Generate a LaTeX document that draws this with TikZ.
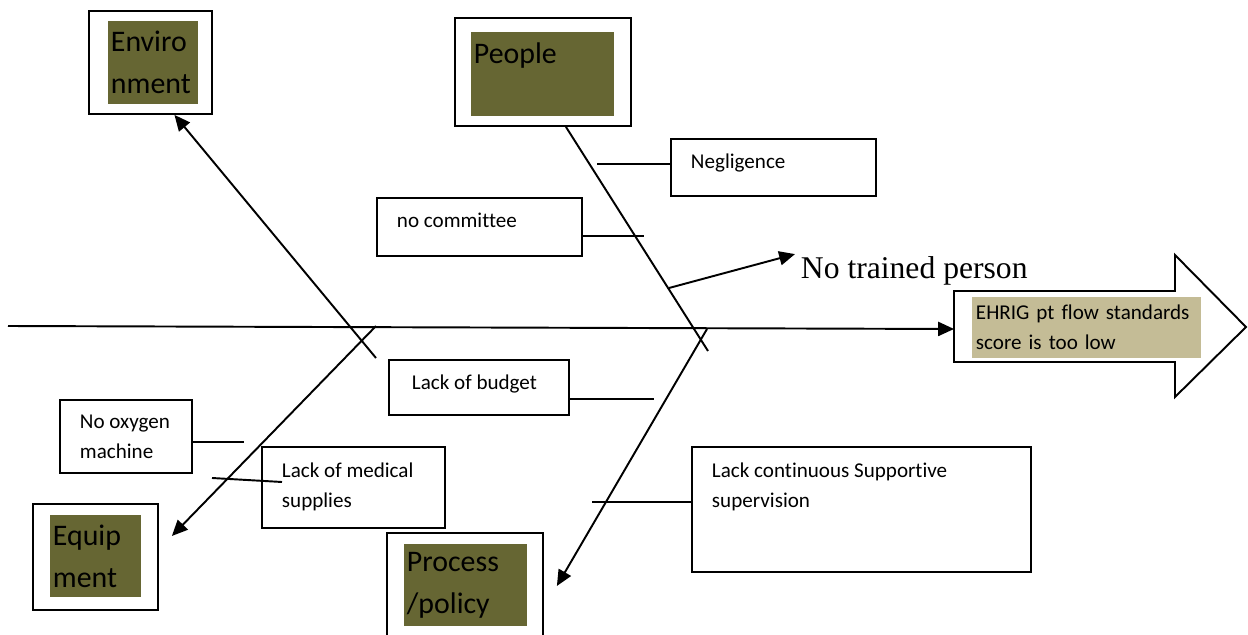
\documentclass[tikz,border=0pt]{standalone}
\usepackage{fontspec}
\setmainfont{Carlito}[Ligatures=NoCommon]
\newfontfamily\serifface{Liberation Serif}
\usetikzlibrary{arrows.meta}
\definecolor{catfill}{RGB}{102,102,51}
\definecolor{effectfill}{RGB}{196,188,150}

\begin{document}
\begin{tikzpicture}[x=0.02cm,y=-0.02cm,line width=1.1pt,
  >={Triangle[length=9pt,width=8pt]},
  frame/.style={draw,anchor=north west,inner sep=0},
  category/.style={fill=catfill,anchor=north west,inner xsep=0.06cm,inner ysep=0,
    align=left,font=\fontsize{17}{24}\selectfont},
  causetext/.style={anchor=north west,inner sep=0,align=left,
    font=\fontsize{12}{17}\selectfont}]
\useasboundingbox (0,0) rectangle (1248,635);

\coordinate (S)     at (8,326);
\coordinate (E)     at (954,329);
\coordinate (envS)  at (376,358);
\coordinate (eqS)   at (376,326);
\coordinate (pplE)  at (708,351);
\coordinate (procS) at (707,329);
\coordinate (T)     at (669,288);

% Categories
\node[frame,minimum width=2.46cm,minimum height=2.06cm] (envF) at (88,10) {};
\node[category,text width=1.68cm,minimum height=1.66cm] (env) at (107,20) {Enviro\\nment};
\node[frame,minimum width=3.52cm,minimum height=2.16cm] (peopleF) at (454,17) {};
\node[category,text width=2.74cm,minimum height=1.68cm] (people) at (470,31) {People\\\mbox{}};
\node[frame,minimum width=2.5cm,minimum height=2.12cm] (equipF) at (32,503) {};
\node[category,text width=1.7cm,minimum height=1.64cm] (equip) at (49,514) {Equip\\ment};
\node[frame,minimum width=3.12cm,minimum height=2.2cm] (procF) at (386,532) {};
\node[category,text width=2.34cm,minimum height=1.64cm] (proc) at (403,543) {Process\\/policy};

% Causes
\node[frame,minimum width=4.1cm,minimum height=1.14cm] (neg) at (670,138) {};
\node[causetext] (negL) at ([shift={(20,15)}]neg.north west) {Negligence};
\node[frame,minimum width=4.1cm,minimum height=1.16cm] (comm) at (376,197) {};
\node[causetext] (commL) at ([shift={(20,15)}]comm.north west) {no committee};
\node[frame,minimum width=3.6cm,minimum height=1.1cm] (budget) at (388,359) {};
\node[causetext] (budgetL) at ([shift={(23,15)}]budget.north west) {Lack of budget};
\node[frame,minimum width=2.64cm,minimum height=1.46cm] (oxy) at (59,399) {};
\node[causetext] (oxyL) at ([shift={(20,15)}]oxy.north west) {No oxygen\\machine};
\node[frame,minimum width=3.66cm,minimum height=1.62cm] (med) at (261,446) {};
\node[causetext] (medL) at ([shift={(20,16)}]med.north west) {Lack of medical\\supplies};
\node[frame,minimum width=6.78cm,minimum height=2.5cm] (sup) at (691,446) {};
\node[causetext] (supL) at ([shift={(20,16)}]sup.north west) {Lack continuous Supportive\\supervision};

\node[anchor=base west,inner sep=0,font=\serifface\fontsize{18}{22}\selectfont]
  (trained) at (800,278) {No trained person};

% Effect
\draw (954,291) -- (1175,291) -- (1175,255) -- (1246,327) -- (1175,397)
  -- (1175,362) -- (954,362) -- cycle;
\node[fill=effectfill,anchor=north west,minimum width=4.58cm,minimum height=1.22cm,
  text width=4.42cm,inner xsep=0.08cm,inner ysep=0,align=left,
  font=\fontsize{12}{17}\selectfont] (effect) at (971,296)
  {EHRIG pt flow standards\\score is too low};

% Spine and branches
\draw[->] (S) -- (E);
\draw[->] (envS) -- ([shift={(24,0)}]envF.south);
\draw[->] (eqS) -- ([shift={(13,-21)}]equipF.east);
\draw ([shift={(23,0)}]peopleF.south) -- (pplE);
\draw[->] (procS) -- ([shift={(13,-2)}]procF.east);
\draw[->] (T) -- ([shift={(-5,-1)}]trained.north west);

% Ticks
\coordinate (negT)  at (597,164);
\coordinate (commT) at (644,236);
\coordinate (budT)  at (654,399);
\coordinate (oxyT)  at (244,442);
\coordinate (medT)  at (212,478);
\coordinate (supT)  at (592,502);
\draw (negT) -- (negT -| neg.west);
\draw (comm.east |- commT) -- (commT);
\draw (budget.east |- budT) -- (budT);
\draw (oxy.east |- oxyT) -- (oxyT);
\draw (medT) -- ([shift={(21,36)}]med.north west);
\draw (supT) -- (supT -| sup.west);
\end{tikzpicture}
\end{document}
